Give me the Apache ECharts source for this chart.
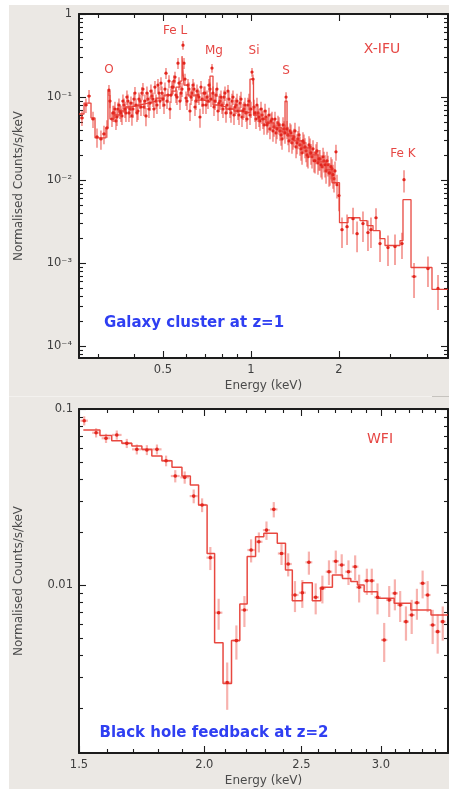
<!DOCTYPE html>
<html>
<head>
<meta charset="utf-8">
<script src="https://cdn.jsdelivr.net/npm/echarts@6/dist/echarts.min.js"></script>
<style>
  html, body { margin: 0; padding: 0; background: #ffffff; }
  #frame { position: absolute; left: 9px; top: 5px; width: 440px; height: 784px; background: #ebe8e4; }
  #chart { position: absolute; left: 0; top: 0; width: 449px; height: 789px; }
</style>
</head>
<body>
<div id="frame"></div>
<div id="chart"></div>
<script>
// ---------- X-IFU spectrum (galaxy cluster, z = 1) ----------
// rows: [energy keV, counts/s/keV, relative 1-sigma error, bin half-width keV]
const ifuPoints = [
  [0.2641, 0.0560, 0.20, 0.004], [0.2725, 0.0802, 0.20, 0.004], [0.2792, 0.1028, 0.18, 0.004],
  [0.2881, 0.0544, 0.22, 0.004], [0.2973, 0.0331, 0.26, 0.004], [0.3067, 0.0313, 0.26, 0.004],
  [0.3141, 0.0360, 0.25, 0.004], [0.3215, 0.0425, 0.24, 0.004], [0.3266, 0.1213, 0.15, 0.003],
  [0.3293, 0.0895, 0.18, 0.003],
  [0.3345, 0.0544, 0.20, 0.003], [0.3398, 0.0643, 0.22, 0.003], [0.3452, 0.0515, 0.22, 0.003],
  [0.3507, 0.0718, 0.20, 0.003], [0.3562, 0.0679, 0.20, 0.003], [0.3619, 0.0592, 0.22, 0.003],
  [0.3676, 0.0802, 0.20, 0.003], [0.3734, 0.0643, 0.22, 0.003], [0.3794, 0.0895, 0.20, 0.003],
  [0.3854, 0.0718, 0.22, 0.003], [0.3915, 0.0592, 0.24, 0.003], [0.3978, 0.0946, 0.20, 0.003],
  [0.4041, 0.0802, 0.20, 0.003], [0.4105, 0.0679, 0.22, 0.003], [0.4170, 0.0895, 0.20, 0.003],
  [0.4236, 0.1117, 0.18, 0.004], [0.4303, 0.0759, 0.22, 0.004], [0.4372, 0.0592, 0.25, 0.004],
  [0.4441, 0.0946, 0.20, 0.004], [0.4512, 0.0847, 0.20, 0.004], [0.4583, 0.1028, 0.20, 0.004],
  [0.4656, 0.0718, 0.22, 0.004], [0.4732, 0.0895, 0.20, 0.004], [0.4806, 0.1393, 0.18, 0.004],
  [0.4883, 0.0895, 0.20, 0.004], [0.4960, 0.1117, 0.20, 0.004], [0.5040, 0.0802, 0.22, 0.004],
  [0.5119, 0.1940, 0.15, 0.004], [0.5200, 0.1057, 0.20, 0.004], [0.5283, 0.0718, 0.24, 0.004],
  [0.5367, 0.1319, 0.18, 0.004], [0.5452, 0.1556, 0.18, 0.005], [0.5539, 0.1057, 0.20, 0.005],
  [0.5627, 0.2560, 0.15, 0.005], [0.5716, 0.0895, 0.22, 0.005], [0.5807, 0.1247, 0.20, 0.005],
  [0.5853, 0.4210, 0.12, 0.005], [0.5899, 0.2560, 0.15, 0.005], [0.5993, 0.0973, 0.20, 0.005],
  [0.6088, 0.1393, 0.18, 0.005], [0.6184, 0.0679, 0.24, 0.005], [0.6283, 0.1117, 0.20, 0.005],
  [0.6383, 0.1247, 0.20, 0.005], [0.6484, 0.0895, 0.22, 0.005], [0.6587, 0.1057, 0.20, 0.005],
  [0.6691, 0.0575, 0.26, 0.005], [0.6798, 0.0946, 0.20, 0.005], [0.6906, 0.1117, 0.20, 0.005],
  [0.7015, 0.0802, 0.22, 0.006], [0.7127, 0.0895, 0.20, 0.006], [0.7240, 0.1247, 0.20, 0.006],
  [0.7355, 0.2230, 0.12, 0.006], [0.7472, 0.0759, 0.22, 0.006], [0.7591, 0.1057, 0.20, 0.006],
  [0.7711, 0.0679, 0.24, 0.006], [0.7834, 0.0895, 0.22, 0.006], [0.7958, 0.0802, 0.22, 0.006],
  [0.8084, 0.1000, 0.20, 0.006], [0.8213, 0.0643, 0.24, 0.007], [0.8343, 0.1180, 0.18, 0.007],
  [0.8476, 0.0718, 0.22, 0.007], [0.8610, 0.0895, 0.22, 0.007], [0.8747, 0.0608, 0.24, 0.007],
  [0.8886, 0.0802, 0.22, 0.007], [0.9027, 0.0679, 0.22, 0.007], [0.9170, 0.0847, 0.22, 0.007],
  [0.9316, 0.0575, 0.24, 0.007], [0.9464, 0.0718, 0.22, 0.008], [0.9614, 0.0643, 0.22, 0.008],
  [0.9767, 0.0802, 0.22, 0.008], [0.9922, 0.0608, 0.24, 0.008], [1.008, 0.1996, 0.12, 0.008],
  [1.016, 0.1644, 0.14, 0.008], [1.024, 0.0759, 0.22, 0.008], [1.040, 0.0544, 0.24, 0.008],
  [1.057, 0.0643, 0.22, 0.008], [1.073, 0.0515, 0.24, 0.008], [1.091, 0.0608, 0.22, 0.009],
  [1.108, 0.0462, 0.24, 0.009], [1.125, 0.0575, 0.22, 0.009], [1.143, 0.0488, 0.24, 0.009],
  [1.161, 0.0413, 0.25, 0.009], [1.180, 0.0544, 0.22, 0.009], [1.199, 0.0437, 0.24, 0.009],
  [1.218, 0.0370, 0.26, 0.010], [1.237, 0.0488, 0.22, 0.010], [1.257, 0.0391, 0.24, 0.010],
  [1.277, 0.0313, 0.26, 0.010], [1.297, 0.0413, 0.24, 0.010], [1.318, 0.1000, 0.14, 0.010],
  [1.339, 0.0350, 0.25, 0.010], [1.360, 0.0391, 0.24, 0.011], [1.381, 0.0281, 0.26, 0.011],
  [1.403, 0.0331, 0.25, 0.011], [1.426, 0.0251, 0.27, 0.011], [1.448, 0.0313, 0.25, 0.011],
  [1.471, 0.0265, 0.26, 0.012], [1.495, 0.0213, 0.28, 0.012], [1.518, 0.0281, 0.26, 0.012],
  [1.543, 0.0225, 0.27, 0.012], [1.567, 0.0191, 0.28, 0.012], [1.592, 0.0251, 0.26, 0.013],
  [1.617, 0.0191, 0.28, 0.013], [1.643, 0.0171, 0.28, 0.013], [1.669, 0.0213, 0.27, 0.013],
  [1.695, 0.0161, 0.28, 0.013], [1.722, 0.0180, 0.28, 0.014], [1.750, 0.0145, 0.30, 0.014],
  [1.777, 0.0171, 0.28, 0.014], [1.806, 0.0129, 0.30, 0.014], [1.834, 0.0153, 0.28, 0.015],
  [1.863, 0.0122, 0.30, 0.015], [1.893, 0.0137, 0.30, 0.015], [1.923, 0.0104, 0.32, 0.015],
  [1.953, 0.0219, 0.22, 0.015], [1.969, 0.0088, 0.32, 0.015], [2.000, 0.0065, 0.35, 0.016],
  // interleaved bins across the continuum
  [0.3371, 0.0643, 0.22, 0.003], [0.3425, 0.0718, 0.22, 0.003], [0.3479, 0.0575, 0.22, 0.003],
  [0.3534, 0.0802, 0.20, 0.003], [0.3590, 0.0643, 0.22, 0.003], [0.3647, 0.0895, 0.20, 0.003],
  [0.3705, 0.0718, 0.22, 0.003], [0.3764, 0.1000, 0.20, 0.003], [0.3824, 0.0643, 0.22, 0.003],
  [0.3885, 0.0847, 0.20, 0.003], [0.3946, 0.0718, 0.22, 0.003], [0.4009, 0.1117, 0.18, 0.003],
  [0.4073, 0.0643, 0.22, 0.003], [0.4137, 0.0946, 0.20, 0.003], [0.4203, 0.0759, 0.22, 0.004],
  [0.4269, 0.1247, 0.18, 0.004], [0.4337, 0.0895, 0.20, 0.004], [0.4406, 0.1117, 0.20, 0.004],
  [0.4476, 0.0718, 0.22, 0.004], [0.4547, 0.1180, 0.20, 0.004], [0.4620, 0.0946, 0.20, 0.004],
  [0.4693, 0.1319, 0.18, 0.004], [0.4768, 0.0802, 0.22, 0.004], [0.4844, 0.1117, 0.20, 0.004],
  [0.4921, 0.1472, 0.18, 0.004], [0.5000, 0.0946, 0.20, 0.004], [0.5079, 0.1247, 0.20, 0.004],
  [0.5160, 0.0895, 0.20, 0.004], [0.5242, 0.1556, 0.18, 0.004], [0.5325, 0.1057, 0.20, 0.004],
  [0.5410, 0.1319, 0.18, 0.004], [0.5495, 0.1738, 0.16, 0.005], [0.5583, 0.1000, 0.20, 0.005],
  [0.5671, 0.1472, 0.18, 0.005], [0.5761, 0.1117, 0.20, 0.005], [0.5946, 0.1644, 0.16, 0.005],
  [0.6040, 0.0895, 0.22, 0.005], [0.6136, 0.1247, 0.20, 0.005], [0.6234, 0.1000, 0.20, 0.005],
  [0.6333, 0.1393, 0.18, 0.005], [0.6433, 0.0759, 0.22, 0.005], [0.6535, 0.1180, 0.20, 0.005],
  [0.6639, 0.1000, 0.20, 0.005], [0.6745, 0.1319, 0.18, 0.005], [0.6852, 0.0802, 0.22, 0.005],
  [0.6960, 0.1117, 0.20, 0.006], [0.7071, 0.1000, 0.20, 0.006], [0.7183, 0.1393, 0.18, 0.006],
  [0.7297, 0.0946, 0.20, 0.006], [0.7413, 0.1117, 0.20, 0.006], [0.7530, 0.0895, 0.22, 0.006],
  [0.7650, 0.1247, 0.20, 0.006], [0.7772, 0.0847, 0.22, 0.006], [0.7895, 0.1000, 0.20, 0.006],
  [0.8021, 0.0718, 0.22, 0.006], [0.8148, 0.1117, 0.20, 0.007], [0.8277, 0.0802, 0.22, 0.007],
  [0.8409, 0.0946, 0.22, 0.007], [0.8542, 0.0643, 0.24, 0.007], [0.8678, 0.1000, 0.20, 0.007],
  [0.8816, 0.0759, 0.22, 0.007], [0.8956, 0.0895, 0.22, 0.007], [0.9098, 0.0608, 0.24, 0.007],
  [0.9243, 0.0946, 0.22, 0.007], [0.9389, 0.0679, 0.22, 0.008], [0.9538, 0.0802, 0.22, 0.008],
  [0.9690, 0.0544, 0.24, 0.008], [0.9844, 0.0895, 0.22, 0.008], [1.000, 0.0718, 0.22, 0.008],
  [1.032, 0.0643, 0.22, 0.008], [1.048, 0.0802, 0.22, 0.008], [1.065, 0.0575, 0.24, 0.008],
  [1.082, 0.0718, 0.22, 0.009], [1.099, 0.0544, 0.24, 0.009], [1.117, 0.0679, 0.22, 0.009],
  [1.134, 0.0462, 0.24, 0.009], [1.152, 0.0608, 0.22, 0.009], [1.171, 0.0515, 0.24, 0.009],
  [1.189, 0.0391, 0.26, 0.009], [1.208, 0.0544, 0.22, 0.010], [1.227, 0.0413, 0.25, 0.010],
  [1.247, 0.0462, 0.24, 0.010], [1.267, 0.0350, 0.26, 0.010], [1.287, 0.0462, 0.24, 0.010],
  [1.307, 0.0370, 0.26, 0.010], [1.328, 0.0413, 0.25, 0.010], [1.349, 0.0296, 0.27, 0.011],
  [1.370, 0.0370, 0.26, 0.011], [1.392, 0.0313, 0.26, 0.011], [1.414, 0.0391, 0.25, 0.011],
  [1.437, 0.0281, 0.27, 0.011], [1.460, 0.0350, 0.26, 0.012], [1.483, 0.0238, 0.28, 0.012],
  [1.506, 0.0296, 0.27, 0.012], [1.530, 0.0251, 0.27, 0.012], [1.555, 0.0201, 0.28, 0.012],
  [1.579, 0.0265, 0.27, 0.013], [1.604, 0.0213, 0.28, 0.013], [1.630, 0.0238, 0.27, 0.013],
  [1.656, 0.0171, 0.30, 0.013], [1.682, 0.0225, 0.28, 0.013], [1.709, 0.0180, 0.28, 0.014],
  [1.736, 0.0153, 0.30, 0.014], [1.764, 0.0191, 0.28, 0.014], [1.792, 0.0153, 0.30, 0.014],
  [1.820, 0.0171, 0.28, 0.015], [1.849, 0.0122, 0.32, 0.015], [1.878, 0.0145, 0.30, 0.015],
  [1.908, 0.0116, 0.32, 0.015], [1.938, 0.0129, 0.30, 0.015],
  // above the 2 keV edge
  [2.048, 0.00253, 0.40, 0.024], [2.131, 0.00275, 0.40, 0.025], [2.234, 0.00343, 0.35, 0.026],
  [2.306, 0.00226, 0.40, 0.027], [2.416, 0.00299, 0.40, 0.028], [2.513, 0.00233, 0.40, 0.028],
  [2.573, 0.00253, 0.40, 0.029], [2.677, 0.00352, 0.30, 0.030], [2.763, 0.00172, 0.40, 0.031],
  [2.942, 0.00154, 0.40, 0.033], [3.109, 0.00158, 0.40, 0.035], [3.285, 0.00172, 0.35, 0.036],
  [3.338, 0.0101, 0.30, 0.030], [3.612, 0.00069, 0.45, 0.075], [4.031, 0.00086, 0.40, 0.055],
  [4.363, 0.000495, 0.45, 0.035]
];
// folded model: bin edges (keV) and level in each bin
const ifuModelEdges = [0.2580, 0.2684, 0.2836, 0.2927, 0.3190, 0.3241, 0.3293, 0.3398, 0.3562, 0.3734,
  0.3915, 0.4170, 0.4441, 0.4732, 0.5040, 0.5367, 0.5539, 0.5716, 0.5807, 0.5899, 0.6088, 0.6484,
  0.6906, 0.7240, 0.7413, 0.7711, 0.8213, 0.8747, 0.9316, 0.9922, 1.0199, 1.057, 1.125, 1.199, 1.277,
  1.3074, 1.3283, 1.403, 1.495, 1.592, 1.695, 1.806, 1.893, 2.008, 2.147, 2.360, 2.494, 2.615, 2.763,
  2.873, 3.234, 3.311, 3.527, 4.161, 4.721];
const ifuModelValues = [0.0625, 0.0847, 0.0560, 0.0322, 0.0425, 0.118, 0.0544, 0.0608, 0.0679, 0.0759,
  0.0802, 0.0847, 0.0895, 0.0973, 0.1057, 0.118, 0.1319, 0.1556, 0.3106, 0.1393, 0.1057, 0.0920,
  0.0871, 0.1787, 0.0802, 0.0759, 0.0718, 0.0679, 0.0643, 0.1644, 0.0608, 0.0544, 0.0488, 0.0425,
  0.0380, 0.0895, 0.0340, 0.0296, 0.0244, 0.0201, 0.0166, 0.0133, 0.00929, 0.00307, 0.00352, 0.00325,
  0.00283, 0.00246, 0.00197, 0.00163, 0.00187, 0.00580, 0.000885, 0.000482];

// ---------- WFI spectrum (black hole feedback, z = 2) ----------
const wfiPoints = [
  [1.518, 0.0858, 0.06, 0.013], [1.560, 0.0733, 0.06, 0.014], [1.596, 0.0682, 0.06, 0.016],
  [1.636, 0.0712, 0.06, 0.018], [1.674, 0.0638, 0.06, 0.019], [1.713, 0.0590, 0.065, 0.019],
  [1.753, 0.0585, 0.065, 0.019], [1.794, 0.0590, 0.065, 0.019], [1.832, 0.0508, 0.07, 0.019],
  [1.871, 0.0416, 0.08, 0.019], [1.912, 0.0409, 0.08, 0.019], [1.952, 0.0320, 0.09, 0.018],
  [1.990, 0.0285, 0.09, 0.018], [2.028, 0.0143, 0.15, 0.018], [2.067, 0.00696, 0.20, 0.018],
  [2.108, 0.00279, 0.30, 0.018], [2.153, 0.00483, 0.22, 0.018], [2.193, 0.00721, 0.20, 0.018],
  [2.227, 0.0158, 0.15, 0.019], [2.267, 0.0176, 0.13, 0.019], [2.307, 0.0205, 0.12, 0.019],
  [2.346, 0.0269, 0.10, 0.020], [2.388, 0.0151, 0.14, 0.020], [2.425, 0.01316, 0.15, 0.020],
  [2.463, 0.00877, 0.20, 0.020], [2.505, 0.00904, 0.18, 0.020], [2.543, 0.01346, 0.15, 0.020],
  [2.583, 0.00851, 0.20, 0.020], [2.623, 0.00958, 0.18, 0.020], [2.663, 0.0119, 0.16, 0.020],
  [2.705, 0.01364, 0.15, 0.020], [2.742, 0.0130, 0.15, 0.021], [2.785, 0.0119, 0.16, 0.021],
  [2.828, 0.0127, 0.16, 0.021], [2.854, 0.0097, 0.18, 0.021], [2.905, 0.01058, 0.17, 0.021],
  [2.938, 0.01058, 0.17, 0.021], [2.977, 0.00851, 0.20, 0.022], [3.023, 0.00487, 0.25, 0.022],
  [3.058, 0.00822, 0.20, 0.022], [3.098, 0.00897, 0.20, 0.022], [3.136, 0.0077, 0.20, 0.022],
  [3.178, 0.00619, 0.22, 0.022], [3.220, 0.00675, 0.22, 0.023], [3.259, 0.00793, 0.20, 0.023],
  [3.302, 0.01023, 0.18, 0.023], [3.340, 0.00877, 0.20, 0.023], [3.379, 0.00592, 0.22, 0.023],
  [3.418, 0.00543, 0.25, 0.023], [3.458, 0.00619, 0.22, 0.023]
];
const wfiModelEdges = [1.515, 1.574, 1.617, 1.655, 1.6935, 1.733, 1.773, 1.8146, 1.857, 1.900, 1.937,
  1.974, 2.013, 2.048, 2.088, 2.129, 2.170, 2.207, 2.250, 2.293, 2.365, 2.410, 2.448, 2.505, 2.563,
  2.613, 2.684, 2.747, 2.800, 2.843, 2.887, 2.977, 3.093, 3.214, 3.366, 3.5];
const wfiModelValues = [0.0760, 0.0706, 0.0661, 0.0638, 0.0616, 0.0590, 0.0541, 0.0508, 0.0466, 0.0416,
  0.0370, 0.0285, 0.0151, 0.0047, 0.00276, 0.00483, 0.0078, 0.0145, 0.0188, 0.0197, 0.01726, 0.01217,
  0.00814, 0.0103, 0.00814, 0.0097, 0.0114, 0.0109, 0.01045, 0.0100, 0.00916, 0.0084, 0.00787, 0.00721,
  0.00676];

// ---------- axis ranges and ticks ----------
const ifuEnergyRange = [0.258, 4.72];
const ifuCountRange = [7.2e-5, 1];
const ifuEnergyMajor = [0.5, 1, 2];
const ifuEnergyMinor = [0.3, 0.4, 0.6, 0.7, 0.8, 0.9, 3, 4];
const ifuCountMajor = [1e-4, 1e-3, 1e-2, 1e-1, 1];

const wfiEnergyRange = [1.5, 3.5];
const wfiCountRange = [0.00111, 0.1];
const wfiEnergyMajor = [1.5, 2.0, 2.5, 3.0];
const wfiEnergyMinor = [1.6, 1.7, 1.8, 1.9, 2.1, 2.2, 2.3, 2.4, 2.6, 2.7, 2.8, 2.9, 3.1, 3.2, 3.3, 3.4];
const wfiCountMajor = [0.01, 0.1];

const minorMantissas = [2, 3, 4, 5, 6, 7, 8, 9];
const ifuDecades = [1e-5, 1e-4, 1e-3, 1e-2, 1e-1];
const wfiDecades = [1e-3, 1e-2];

// ---------- helpers ----------
const LG = Math.log10;
const AXIS_COLOR = '#1c1c1c';
const LABEL_COLOR = '#3e3e3e';
const FONT = '"DejaVu Sans", "Noto Sans", sans-serif';
const RED = '#e2261e';
const BAR_DENSE = 'rgba(234, 62, 52, 0.55)';
const BAR_SPARSE = 'rgba(236, 72, 62, 0.42)';
const MODEL = 'rgba(228, 40, 30, 0.85)';

const minorCounts = decades => decades.flatMap(d => minorMantissas.map(m => +(m * d).toPrecision(3)));

function errorRows(points) {
  return points.map(([e, c, rel, hw]) =>
    [LG(e), LG(c), LG(c * (1 - rel)), LG(c * (1 + rel)), LG(e - hw), LG(e + hw)]);
}
function stepLine(edges, values) {
  const out = [];
  values.forEach((v, i) => {
    out.push([LG(edges[i]), LG(v)]);
    out.push([LG(edges[i + 1]), LG(v)]);
  });
  return out;
}
function makeErrorBar(barColor, barWidth, dotRadius) {
  return function (params, api) {
    const x = api.value(0), y = api.value(1);
    const c = api.coord([x, y]);
    const lo = api.coord([x, api.value(2)]);
    const hi = api.coord([x, api.value(3)]);
    const l = api.coord([api.value(4), y]);
    const r = api.coord([api.value(5), y]);
    return {
      type: 'group',
      children: [
        { type: 'line', shape: { x1: lo[0], y1: lo[1], x2: hi[0], y2: hi[1] }, style: { stroke: barColor, lineWidth: barWidth } },
        { type: 'line', shape: { x1: l[0], y1: l[1], x2: r[0], y2: r[1] }, style: { stroke: barColor, lineWidth: barWidth } },
        { type: 'circle', shape: { cx: c[0], cy: c[1], r: dotRadius }, style: { fill: RED } }
      ]
    };
  };
}

const SUP = { '-': '\u207B', '1': '\u00B9', '2': '\u00B2', '3': '\u00B3', '4': '\u2074' };
const powerLabel = v => {
  const n = Math.round(v);
  return n === 0 ? '1' : '10' + String(n).split('').map(ch => SUP[ch]).join('');
};
const plainLabel = v => String(parseFloat(Math.pow(10, v).toPrecision(6)));
const fixedLabel = v => Math.pow(10, v).toFixed(1);

function axis(gridIndex, position, range, ticks, major, extra) {
  return Object.assign({
    type: 'value', gridIndex, position,
    min: LG(range[0]), max: LG(range[1]),
    axisLine: { show: major, onZero: false, lineStyle: { color: AXIS_COLOR, width: 2 } },
    axisTick: { show: true, inside: true, length: major ? 7 : 4, customValues: ticks.map(LG),
                lineStyle: { color: AXIS_COLOR, width: 1.1 } },
    axisLabel: { show: false },
    splitLine: { show: false }
  }, extra || {});
}
function labelled(ticks, formatter, margin) {
  return { show: true, customValues: ticks.map(LG), formatter, margin,
           color: LABEL_COLOR, fontSize: 11.5, fontFamily: FONT };
}
const nameStyle = { color: '#4a4a4a', fontSize: 12, fontFamily: FONT };

const panelA = { left: 79, top: 14, width: 369, height: 344 };
const panelB = { left: 79, top: 409, width: 369, height: 344 };

const option = {
  backgroundColor: 'transparent',
  animation: false,
  grid: [
    Object.assign({ show: true, backgroundColor: '#ffffff', borderWidth: 0 }, panelA),
    Object.assign({ show: false }, panelA),
    Object.assign({ show: true, backgroundColor: '#ffffff', borderWidth: 0 }, panelB),
    Object.assign({ show: false }, panelB)
  ],
  xAxis: [
    axis(0, 'bottom', ifuEnergyRange, ifuEnergyMajor, true, {
      axisLabel: labelled(ifuEnergyMajor, plainLabel, 6),
      name: 'Energy (keV)', nameLocation: 'middle', nameGap: 22, nameTextStyle: nameStyle
    }),
    axis(0, 'top', ifuEnergyRange, ifuEnergyMajor, true),
    axis(1, 'bottom', ifuEnergyRange, ifuEnergyMinor, false),
    axis(1, 'top', ifuEnergyRange, ifuEnergyMinor, false),
    axis(2, 'bottom', wfiEnergyRange, wfiEnergyMajor, true, {
      axisLabel: labelled(wfiEnergyMajor, fixedLabel, 6),
      name: 'Energy (keV)', nameLocation: 'middle', nameGap: 22, nameTextStyle: nameStyle
    }),
    axis(2, 'top', wfiEnergyRange, wfiEnergyMajor, true),
    axis(3, 'bottom', wfiEnergyRange, wfiEnergyMinor, false),
    axis(3, 'top', wfiEnergyRange, wfiEnergyMinor, false)
  ],
  yAxis: [
    axis(0, 'left', ifuCountRange, ifuCountMajor, true, {
      axisLabel: labelled(ifuCountMajor, powerLabel, 7),
      name: 'Normalised Counts/s/keV', nameLocation: 'middle', nameGap: 54, nameTextStyle: nameStyle
    }),
    axis(0, 'right', ifuCountRange, ifuCountMajor, true),
    axis(1, 'left', ifuCountRange, minorCounts(ifuDecades), false),
    axis(1, 'right', ifuCountRange, minorCounts(ifuDecades), false),
    axis(2, 'left', wfiCountRange, wfiCountMajor, true, {
      axisLabel: labelled(wfiCountMajor, plainLabel, 6),
      name: 'Normalised Counts/s/keV', nameLocation: 'middle', nameGap: 54, nameTextStyle: nameStyle
    }),
    axis(2, 'right', wfiCountRange, wfiCountMajor, true),
    axis(3, 'left', wfiCountRange, minorCounts(wfiDecades), false),
    axis(3, 'right', wfiCountRange, minorCounts(wfiDecades), false)
  ],
  series: [
    { name: 'X-IFU model', type: 'line', xAxisIndex: 0, yAxisIndex: 0, data: stepLine(ifuModelEdges, ifuModelValues),
      showSymbol: false, clip: true, z: 2, lineStyle: { color: MODEL, width: 1.3 } },
    { name: 'X-IFU data', type: 'custom', xAxisIndex: 0, yAxisIndex: 0, data: errorRows(ifuPoints),
      encode: { x: 0, y: 1 }, renderItem: makeErrorBar(BAR_DENSE, 1.7, 1.6), clip: true, z: 3 },
    { name: 'WFI model', type: 'line', xAxisIndex: 4, yAxisIndex: 4, data: stepLine(wfiModelEdges, wfiModelValues),
      showSymbol: false, clip: true, z: 2, lineStyle: { color: MODEL, width: 1.5 } },
    { name: 'WFI data', type: 'custom', xAxisIndex: 4, yAxisIndex: 4, data: errorRows(wfiPoints),
      encode: { x: 0, y: 1 }, renderItem: makeErrorBar(BAR_SPARSE, 2.2, 1.8), clip: true, z: 3 }
  ],
  graphic: {
    elements: [
      { type: 'line', shape: { x1: 9, y1: 396.5, x2: 449, y2: 396.5 }, style: { stroke: '#f3f1ee', lineWidth: 1 } },
      { type: 'line', shape: { x1: 432, y1: 396.5, x2: 449, y2: 396.5 }, style: { stroke: '#c6c3be', lineWidth: 1 } },
      ...[
        ['O', 109, 70, 12], ['Fe L', 175, 31, 12], ['Mg', 214, 51, 12], ['Si', 254, 51, 12], ['S', 286, 71, 12],
        ['X-IFU', 382, 49, 14], ['Fe K', 403, 154, 12], ['WFI', 380, 439, 14]
      ].map(([t, x, y, s]) => ({
        type: 'text', x, y, z: 10,
        style: { text: t, fill: '#e64744', font: s + 'px ' + FONT, textAlign: 'center', textVerticalAlign: 'middle' }
      })),
      ...[
        ['Galaxy cluster at z=1', 194, 323], ['Black hole feedback at z=2', 214, 733]
      ].map(([t, x, y]) => ({
        type: 'text', x, y, z: 10,
        style: { text: t, fill: '#2f3ff2', font: 'bold 15px ' + FONT, textAlign: 'center', textVerticalAlign: 'middle' }
      }))
    ]
  }
};

const chart = echarts.init(document.getElementById('chart'), null, { renderer: 'canvas' });
chart.setOption(option);
</script>
</body>
</html>
